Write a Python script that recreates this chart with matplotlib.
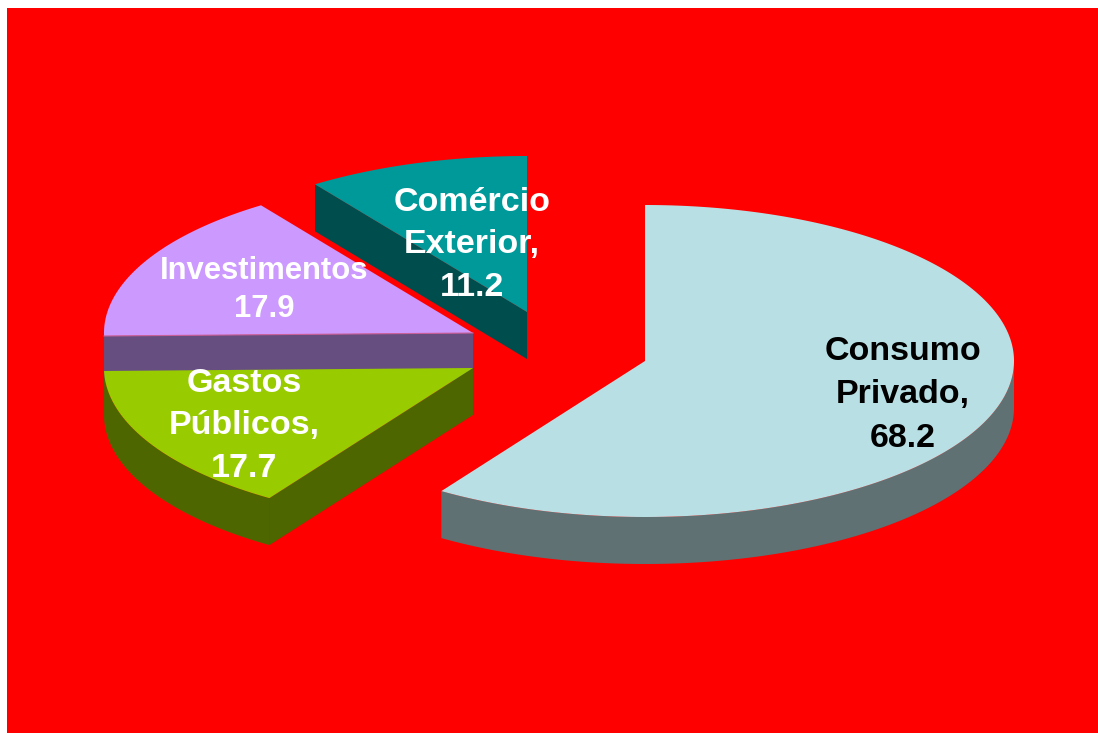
import numpy as np
import matplotlib
matplotlib.use('Agg')
import matplotlib.pyplot as plt
from matplotlib.patches import Polygon

plt.rcParams['font.family'] = ['Liberation Sans', 'DejaVu Sans']

names = ['Consumo\nPrivado,', 'Gastos\nPúblicos,', 'Investimentos', 'Comércio\nExterior,']
values = [68.2, 17.7, 17.9, 11.2]
top_colors = ['#B8E0E4', '#99CC00', '#CC99FF', '#009999']
side_colors = ['#5F7172', '#4D6600', '#664F80', '#004D4D']
text_colors = ['black', 'white', 'white', 'white']

# exploded centre of each slice, in pixels
centers = [(645, 361), (473, 368), (473, 333), (527, 312)]
label_pos = [(903, 395), (244, 426), (264, 290), (472, 245)]
label_size = [24.5, 24.5, 22.3, 24.5]
line_gap = [1.52, 1.47, 1.38, 1.47]
RX, RY, DEPTH = 369, 156, 47


def ell(c, deg):
    t = np.radians(deg)
    return np.column_stack([c[0] + RX * np.sin(t), c[1] - RY * np.cos(t)])


def draw_slice(ax, c, start, end, top, side, z):
    # cut face, only where it turns towards the viewer
    if 180 < start < 360:
        p = ell(c, np.array([start]))[0]
        face = [c, p, (p[0], p[1] + DEPTH), (c[0], c[1] + DEPTH)]
        ax.add_patch(Polygon(face, closed=True, fc=side, ec='none', zorder=z))
    # outer rim, front half of the ellipse only
    a, b = max(start, 90), min(end, 270)
    if b > a:
        rim = ell(c, np.linspace(a, b, 200))
        low = rim[::-1] + [0, DEPTH]
        ax.add_patch(Polygon(np.vstack([rim, low]), closed=True, fc=side, ec='none', zorder=z))
    arc = ell(c, np.linspace(start, end, 300))
    ax.add_patch(Polygon(np.vstack([[c], arc]), closed=True, fc=top, ec='none', zorder=z + 0.5))


fig = plt.figure(figsize=(10.98, 7.33), dpi=100, facecolor='white')
ax = fig.add_axes([7 / 1098, 0, 1 - 7 / 1098, 1 - 8 / 733])
ax.set_facecolor('#FF0000')
ax.set_xlim(7, 1098)
ax.set_ylim(733, 8)
ax.set_xticks([])
ax.set_yticks([])
for s in ax.spines.values():
    s.set_visible(False)

edges = np.concatenate([[0], np.cumsum(values)]) / sum(values) * 360
# back slices first so the front ones sit over them
order = [3, 2, 1, 0]
for n, i in enumerate(order):
    draw_slice(ax, centers[i], edges[i], edges[i + 1], top_colors[i], side_colors[i], n + 1)

# thin seam along the lower edge of Investimentos
seam = ell(centers[2], np.array([edges[2]]))[0]
ax.plot([seam[0], centers[2][0]], [seam[1], centers[2][1]], color='#C8609A', lw=0.8, zorder=2.6)

for name, val, pos, size, col, gap in zip(names, values, label_pos, label_size, text_colors, line_gap):
    ax.text(pos[0], pos[1], f'{name}\n{val}',
            ha='center', va='center', multialignment='center', color=col,
            fontsize=size, fontweight='bold', linespacing=gap, zorder=10)

fig.savefig('out.png', dpi=100, facecolor='white')
